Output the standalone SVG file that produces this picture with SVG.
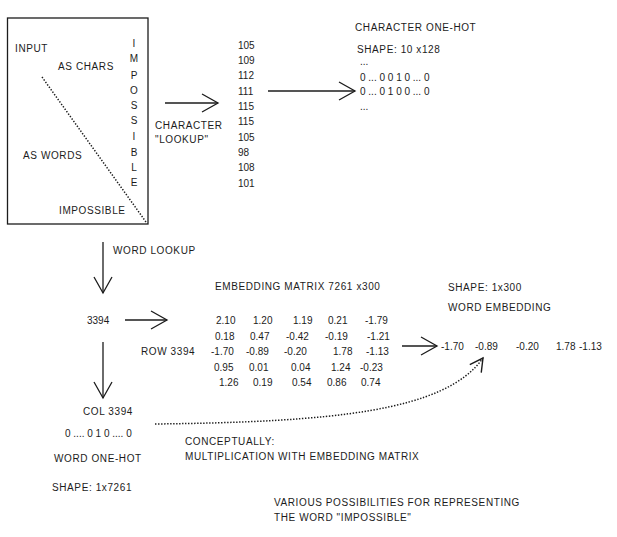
<svg xmlns="http://www.w3.org/2000/svg" width="617" height="537" viewBox="0 0 617 537">
<style>
text{font-family:"Liberation Sans","DejaVu Sans",sans-serif;font-size:10px;fill:#1c1c1c;}
.w{letter-spacing:0.6px;}
.ln{stroke:#1c1c1c;stroke-width:1.3;fill:none;}
.dot{stroke:#1c1c1c;stroke-width:1.5;fill:none;stroke-dasharray:1.4 1.6;}
.c{text-anchor:middle;}
</style>
<defs>
<marker id="ah" markerUnits="userSpaceOnUse" markerWidth="20" markerHeight="22" refX="17" refY="10" orient="auto">
<path d="M1,1 L17,10 L1,19" fill="none" stroke="#1c1c1c" stroke-width="1.3"/>
</marker>
<marker id="ahs" markerUnits="userSpaceOnUse" markerWidth="18" markerHeight="18" refX="14" refY="8" orient="auto">
<path d="M1,1 L14,8 L1,15" fill="none" stroke="#1c1c1c" stroke-width="1.4"/>
</marker>
</defs>
<rect width="617" height="537" fill="#ffffff"/>

<g id="input-box">
<rect x="7.5" y="18" width="140.5" height="206" class="ln"/>
<path d="M42,77 L146,222" class="dot"/>
<text class="w" x="15" y="52">INPUT</text>
<text class="w" x="58" y="70">AS CHARS</text>
<text class="w" x="23" y="159">AS WORDS</text>
<text class="w" x="59" y="214">IMPOSSIBLE</text>
<g class="c">
<text x="134" y="47">I</text>
<text x="134" y="62">M</text>
<text x="134" y="79">P</text>
<text x="134" y="94">O</text>
<text x="134" y="109">S</text>
<text x="134" y="124">S</text>
<text x="134" y="140">I</text>
<text x="134" y="156">B</text>
<text x="134" y="171">L</text>
<text x="134" y="186">E</text>
</g>
</g>

<g id="char-codes">
<text x="238" y="49">105</text>
<text x="238" y="64">109</text>
<text x="238" y="79">112</text>
<text x="238" y="95">111</text>
<text x="238" y="110">115</text>
<text x="238" y="125">115</text>
<text x="238" y="141">105</text>
<text x="238" y="156">98</text>
<text x="238" y="171">108</text>
<text x="238" y="187">101</text>
</g>

<g id="char-onehot">
<text class="w" x="355" y="31">CHARACTER ONE-HOT</text>
<text class="w" x="357" y="53">SHAPE: 10 x128</text>
<text x="360" y="65">...</text>
<text x="360" y="81">0 ... 0 0 1 0 ... 0</text>
<text x="360" y="95">0 ... 0 1 0 0 ... 0</text>
<text x="360" y="110">...</text>
</g>

<g id="word-index">
<text x="87" y="324">3394</text>
</g>

<g id="embedding-matrix">
<text class="w" x="215" y="290">EMBEDDING MATRIX 7261 x300</text>
<text class="w" x="141" y="355">ROW 3394</text>
<text x="216" y="324">2.10</text><text x="253" y="324">1.20</text><text x="293" y="324">1.19</text><text x="328" y="324">0.21</text><text x="365" y="324">-1.79</text>
<text x="215" y="340">0.18</text><text x="250" y="340">0.47</text><text x="286" y="340">-0.42</text><text x="325" y="340">-0.19</text><text x="367" y="340">-1.21</text>
<text x="211" y="355">-1.70</text><text x="246" y="355">-0.89</text><text x="284" y="355">-0.20</text><text x="333" y="355">1.78</text><text x="366" y="355">-1.13</text>
<text x="214" y="371">0.95</text><text x="249" y="371">0.01</text><text x="291" y="371">0.04</text><text x="331" y="371">1.24</text><text x="360" y="371">-0.23</text>
<text x="219" y="386">1.26</text><text x="253" y="386">0.19</text><text x="292" y="386">0.54</text><text x="327" y="386">0.86</text><text x="361" y="386">0.74</text>
</g>

<g id="word-embedding">
<text class="w" x="448" y="291">SHAPE: 1x300</text>
<text class="w" x="448" y="311">WORD EMBEDDING</text>
<text x="441" y="350">-1.70</text>
<text x="475" y="350">-0.89</text>
<text x="516" y="350">-0.20</text>
<text x="556" y="350">1.78</text>
<text x="579" y="350">-1.13</text>
</g>

<g id="word-onehot">
<text class="w" x="83" y="415">COL 3394</text>
<text x="65" y="437">0 .... 0 1 0 .... 0</text>
<text class="w" x="54" y="462">WORD ONE-HOT</text>
<text class="w" x="52" y="491">SHAPE: 1x7261</text>
</g>

<g id="notes">
<text class="w" x="155" y="129">CHARACTER</text>
<text class="w" x="155" y="143">"LOOKUP"</text>
<text class="w" x="113" y="254">WORD LOOKUP</text>
<text class="w" x="185" y="445">CONCEPTUALLY:</text>
<text class="w" x="185" y="460">MULTIPLICATION WITH EMBEDDING MATRIX</text>
<text class="w" x="274" y="506">VARIOUS POSSIBILITIES FOR REPRESENTING</text>
<text class="w" x="274" y="521">THE WORD "IMPOSSIBLE"</text>
</g>

<g id="connectors">
<path d="M165,103 L218,103" class="ln" marker-end="url(#ah)"/>
<path d="M268,91 L355,91" class="ln" marker-end="url(#ah)"/>
<path d="M103,242 L103,293" class="ln" marker-end="url(#ah)"/>
<path d="M125,320 L167,320" class="ln" marker-end="url(#ah)"/>
<path d="M103,342 L103,398" class="ln" marker-end="url(#ah)"/>
<path d="M402,346 L437,346" class="ln" marker-end="url(#ah)"/>
<path d="M155,424 C330,422 445,412 483,358" class="dot" marker-end="url(#ahs)"/>
</g>
</svg>
